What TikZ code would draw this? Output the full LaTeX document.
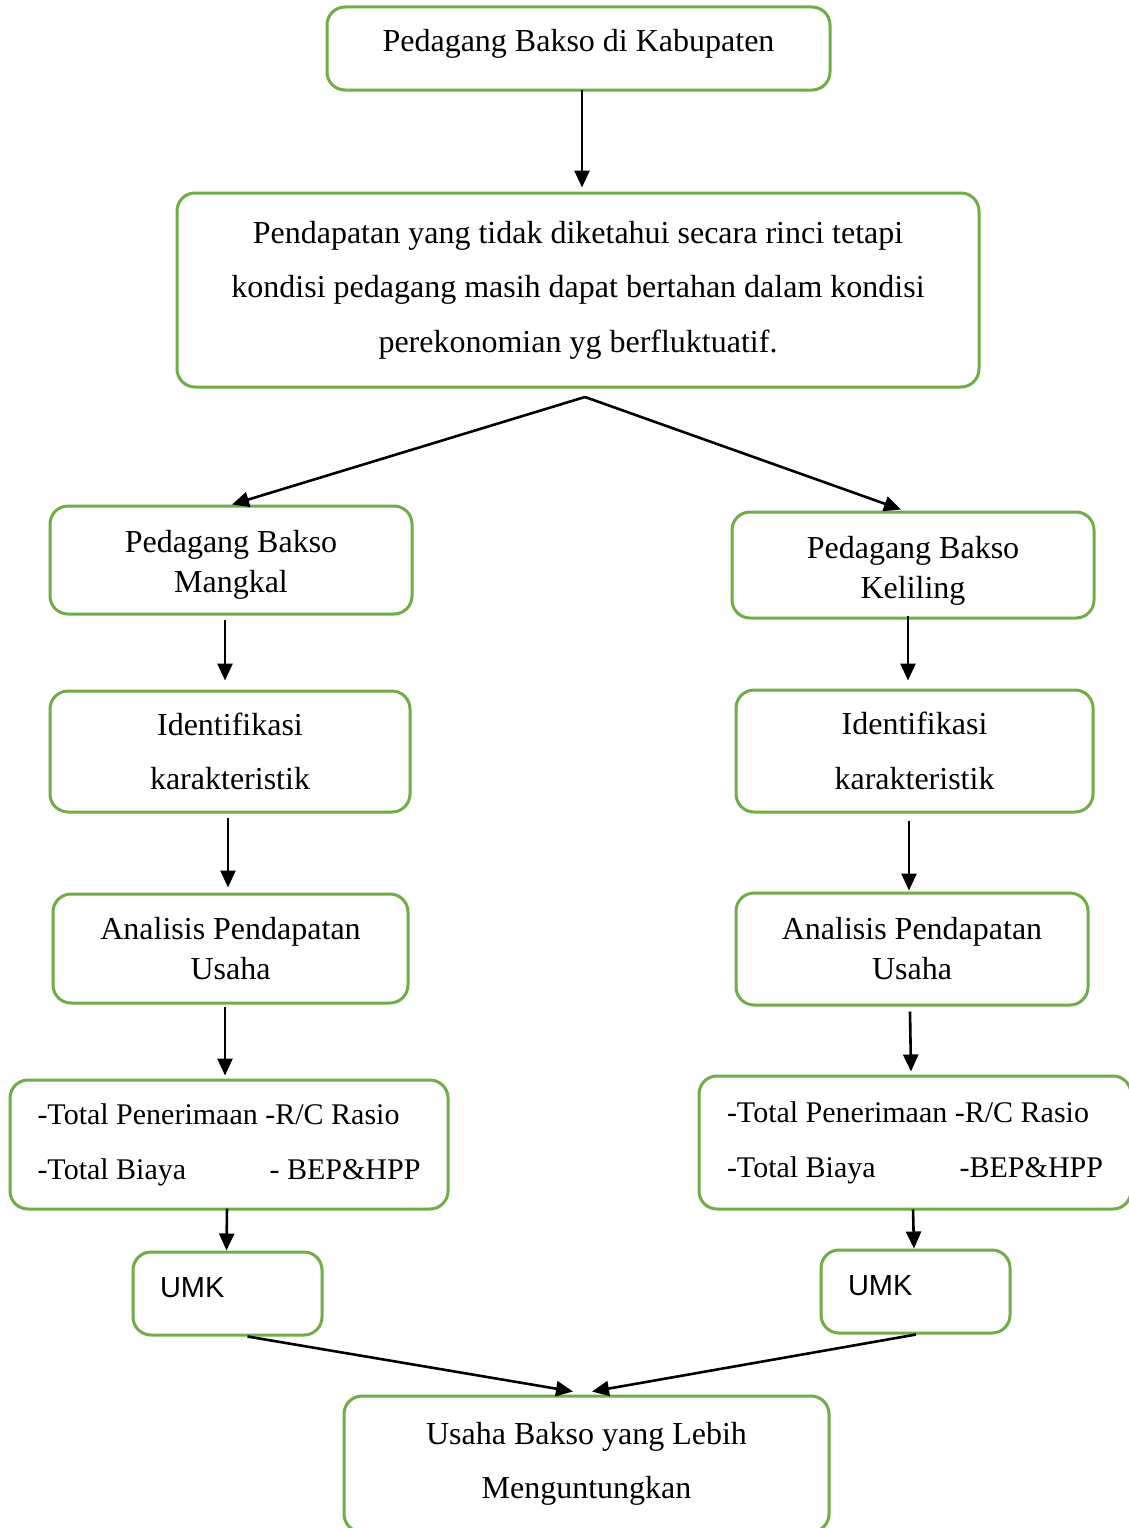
\documentclass[tikz,border=0pt]{standalone}
\usepackage{fontspec}
\setmainfont{Liberation Serif}
\newfontfamily\umkfont{Liberation Sans}
\usetikzlibrary{arrows.meta,calc}
\definecolor{boxgreen}{RGB}{112,173,71}
\newcommand{\twolines}[3]{\raisebox{#3}[\height][\depth]{\begin{tabular}{@{}c@{}}#1\\#2\end{tabular}}}
\begin{document}
\begin{tikzpicture}[x=1pt,y=-1pt,
  box/.style={draw=boxgreen, line width=3pt, rounded corners=18pt, inner sep=0pt, align=center},
  tight/.style={font=\fontsize{32}{40}\selectfont},
  loose/.style={font=\fontsize{32}{54.5}\selectfont},
  small/.style={font=\fontsize{30}{55}\selectfont},
  arr/.style={line width=2.6pt, -{Triangle[length=17pt,width=15pt]}}]
\useasboundingbox (0,0) rectangle (1129,1528);
\fill[white] (0,0) rectangle (1129,1528);
\begin{scope}
\clip (0,0) rectangle (1129,1528);
% boxes
\node[box, tight, minimum width=503pt, minimum height=83pt] (b1) at (578.5,48.5) {\raisebox{17pt}{Pedagang Bakso di Kabupaten}};
\node[box, loose, minimum width=802pt, minimum height=194pt] (b2) at (578,290)
  {Pendapatan yang tidak diketahui secara rinci tetapi\\kondisi pedagang masih dapat bertahan dalam kondisi\\perekonomian yg berfluktuatif.};
\node[box, tight, minimum width=362pt, minimum height=108pt] (b3) at (231,560) {\twolines{Pedagang Bakso}{Mangkal}{-4pt}};
\node[box, tight, minimum width=362pt, minimum height=106pt] (b4) at (913,565) {\twolines{Pedagang Bakso}{Keliling}{-5pt}};
\node[box, loose, minimum width=360pt, minimum height=121pt] (b5) at (230,751.5) {Identifikasi\\karakteristik};
\node[box, loose, minimum width=357pt, minimum height=122pt] (b6) at (914.5,751) {Identifikasi\\karakteristik};
\node[box, tight, minimum width=355pt, minimum height=109pt] (b7) at (230.5,948.5) {Analisis Pendapatan\\Usaha};
\node[box, tight, minimum width=352pt, minimum height=112pt] (b8) at (912,949) {Analisis Pendapatan\\Usaha};
\node[box, small, align=left, minimum width=438pt, minimum height=129pt] (b9) at (229,1144.5)
  {\makebox[383pt][l]{-Total Penerimaan -R/C Rasio}\\\makebox[383pt][l]{-Total Biaya\hfill- BEP\&HPP}};
\node[box, small, align=left, minimum width=432pt, minimum height=133pt] (b10) at (915,1142.5)
  {\makebox[376pt][l]{-Total Penerimaan -R/C Rasio}\\\makebox[376pt][l]{-Total Biaya\hfill-BEP\&HPP}};
\node[box, align=left, minimum width=189pt, minimum height=83pt, font=\umkfont\fontsize{29}{34}\selectfont] (b11) at (227.5,1293.5) {\makebox[135pt][l]{\raisebox{12pt}{UMK}}};
\node[box, align=left, minimum width=189pt, minimum height=83pt, font=\umkfont\fontsize{29}{34}\selectfont] (b12) at (915.5,1291.5) {\makebox[135pt][l]{\raisebox{12pt}{UMK}}};
\node[box, loose, minimum width=485pt, minimum height=136pt] (b13) at (586.5,1464) {Usaha Bakso yang Lebih\\Menguntungkan};
\end{scope}
% connectors
\coordinate (split) at (585,397);
\draw[arr] ([shift={(3.5,-2)}]b1.south) -- ([shift={(3.5,-4)}]b1.south |- b2.north);
\draw[arr] (split) -- ([xshift=1pt]b3.north);
\draw[arr] (split) -- ([shift={(-12,-1)}]b4.north);
\draw[arr] ([shift={(-6,4)}]b3.south) -- ([shift={(-6,-9)}]b3.south |- b5.north);
\draw[arr] ([shift={(-5,-4)}]b4.south) -- ([shift={(-5,-8)}]b4.south |- b6.north);
\draw[arr] ([shift={(-2,4)}]b5.south) -- ([shift={(-2,-5)}]b5.south |- b7.north);
\draw[arr] ([shift={(-5.5,7)}]b6.south) -- ([shift={(-5.5,-1)}]b6.south |- b8.north);
\draw[arr] ([shift={(-5.5,2)}]b7.south) -- ([shift={(-5.5,-3)}]b7.south |- b9.north);
\draw[arr] ([shift={(-2,5)}]b8.south) -- ([shift={(-1,-3)}]b8.south |- b10.north);
\draw[arr] ([shift={(-2,-2)}]b9.south) -- ([xshift=-1pt]b11.north);
\draw[arr] ([shift={(-2,-1)}]b10.south) -- ([xshift=-1.5pt]b12.north);
\draw[arr] ([xshift=20pt]b11.south) -- ([shift={(-13.5,-3)}]b13.north);
\draw[arr] ([xshift=0.5pt]b12.south) -- ([shift={(5.5,-3)}]b13.north);
\end{tikzpicture}
\end{document}
